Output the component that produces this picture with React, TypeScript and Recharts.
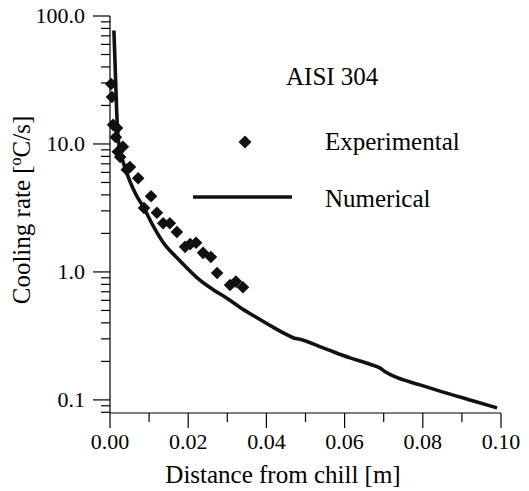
import React from 'react';
import { ComposedChart, XAxis, YAxis, Scatter, Line } from 'recharts';

// Experimental points (distance [m], cooling rate [ºC/s])
const expDistance = [
  0.0003, 0.0005, 0.0008, 0.0018, 0.0015, 0.0033, 0.002, 0.0026, 0.0051, 0.0043, 0.0072, 0.0105, 0.0087,
  0.012, 0.0136, 0.0153, 0.0171, 0.0192, 0.0205, 0.022, 0.0238, 0.0258, 0.0274, 0.0307, 0.0322, 0.034,
];
const expRate = [
  29.4, 23.3, 14.1, 13.3, 11.3, 9.5, 8.7, 7.9, 6.6, 6.3, 5.4, 3.9, 3.16,
  2.9, 2.4, 2.4, 2.05, 1.57, 1.65, 1.69, 1.41, 1.31, 0.98, 0.79, 0.84, 0.76,
];

// Numerical curve
const numDistance = [
  0.001, 0.0013, 0.0016, 0.002, 0.0025, 0.0035, 0.005, 0.0065, 0.0087, 0.011, 0.0136, 0.017, 0.02,
  0.0223, 0.0263, 0.03, 0.0332, 0.0375, 0.0417, 0.046, 0.0472, 0.048, 0.0545, 0.0614, 0.0665, 0.069,
  0.0705, 0.0724, 0.0793, 0.085, 0.092, 0.099,
];
const numRate = [
  77, 42, 22, 12, 9.2, 7.0, 5.2, 4.1, 3.15, 2.3, 1.7, 1.3, 1.05,
  0.9, 0.73, 0.62, 0.53, 0.44, 0.37, 0.315, 0.303, 0.3, 0.255, 0.213, 0.19, 0.178,
  0.165, 0.154, 0.131, 0.1155, 0.1, 0.0866,
];

const xTicks = [0, 0.01, 0.02, 0.03, 0.04, 0.05, 0.06, 0.07, 0.08, 0.09, 0.1];
const xMajor = [0, 0.02, 0.04, 0.06, 0.08, 0.1];
const yMajor = [0.1, 1, 10, 100];
const yTicks = [
  0.08, 0.09, 0.1, 0.2, 0.3, 0.4, 0.5, 0.6, 0.7, 0.8, 0.9, 1, 2, 3, 4, 5, 6, 7, 8, 9,
  10, 20, 30, 40, 50, 60, 70, 80, 90, 100,
];

const expData = expDistance.map((x, i) => ({ x, y: expRate[i] }));
const numData = numDistance.map((x, i) => ({ x, y: numRate[i] }));

const FONT = '"Liberation Serif", "Times New Roman", serif';

const XTick = (props: any) => {
  const { x, y, payload } = props;
  const major = xMajor.includes(payload.value);
  return (
    <g>
      <line x1={x} x2={x} y1={y} y2={y + (major ? 15 : 9)} stroke="#000" strokeWidth={1.2} />
      {major && (
        <text x={x} y={y + 36} textAnchor="middle" fontSize={22} fontFamily={FONT} fill="#000">
          {payload.value.toFixed(2)}
        </text>
      )}
    </g>
  );
};

const YTick = (props: any) => {
  const { x, y, payload } = props;
  const v = payload.value;
  const major = yMajor.includes(v);
  return (
    <g>
      <line x1={x - (major ? 17 : 9)} x2={x} y1={y} y2={y} stroke="#000" strokeWidth={1.2} />
      {major && (
        <text x={x - 25} y={y + 7} textAnchor="end" fontSize={22} fontFamily={FONT} fill="#000">
          {v >= 1 ? v.toFixed(1) : String(v)}
        </text>
      )}
    </g>
  );
};

const Diamond = (props: any) => {
  const { cx, cy } = props;
  const r = 6.3;
  return <polygon points={`${cx},${cy - r} ${cx + r},${cy} ${cx},${cy + r} ${cx - r},${cy}`} fill="#111" />;
};

export default function App() {
  return (
    <div style={{ position: 'absolute', left: 0, top: 0, width: 529, height: 491, background: '#fff' }}>
      <ComposedChart width={529} height={491} margin={{ top: 16, right: 28, bottom: 8, left: 10 }}>
        <XAxis
          xAxisId="b"
          dataKey="x"
          type="number"
          domain={[0, 0.1]}
          ticks={xTicks}
          interval={0}
          tick={<XTick />}
          tickLine={false}
          tickSize={0}
          tickMargin={0}
          height={70}
          axisLine={{ stroke: '#000', strokeWidth: 1.2 }}
        />
        <XAxis xAxisId="t" orientation="top" type="number" domain={[0, 0.1]} tick={false} tickLine={false} height={0} axisLine={{ stroke: '#000', strokeWidth: 1.2 }} />
        <YAxis
          yAxisId="l"
          dataKey="y"
          type="number"
          scale="log"
          domain={[0.079, 100]}
          allowDataOverflow
          ticks={yTicks}
          interval={0}
          tick={<YTick />}
          tickLine={false}
          tickSize={0}
          tickMargin={0}
          width={100}
          axisLine={{ stroke: '#000', strokeWidth: 1.2 }}
        />
        <YAxis yAxisId="r" orientation="right" type="number" scale="log" domain={[0.079, 100]} tick={false} tickLine={false} width={0} axisLine={{ stroke: '#000', strokeWidth: 1.2 }} />
        <Line
          xAxisId="b"
          yAxisId="l"
          data={numData}
          dataKey="y"
          type="monotone"
          stroke="#111"
          strokeWidth={3.6}
          dot={false}
          isAnimationActive={false}
        />
        <Scatter xAxisId="b" yAxisId="l" data={expData} dataKey="y" shape={<Diamond />} isAnimationActive={false} />
      </ComposedChart>
      <svg width={529} height={491} style={{ position: 'absolute', left: 0, top: 0, pointerEvents: 'none' }} fontFamily={FONT}>
        <text x={286} y={85} fontSize={25} fill="#000">AISI 304</text>
        <polygon points="245,135.5 251.5,142 245,148.5 238.5,142" fill="#111" />
        <text x={325} y={150} fontSize={25} fill="#000">Experimental</text>
        <line x1={193} x2={292} y1={197} y2={197} stroke="#111" strokeWidth={3.6} />
        <text x={325} y={207} fontSize={25} fill="#000">Numerical</text>
        <text x={283} y={483} textAnchor="middle" fontSize={25} fill="#000">Distance from chill [m]</text>
        <text x={30} y={210} transform="rotate(-90 30 210)" textAnchor="middle" fontSize={25} fill="#000">
          Cooling rate [<tspan dy={-9} fontSize={16}>o</tspan><tspan dy={9}>C/s]</tspan>
        </text>
      </svg>
    </div>
  );
}
